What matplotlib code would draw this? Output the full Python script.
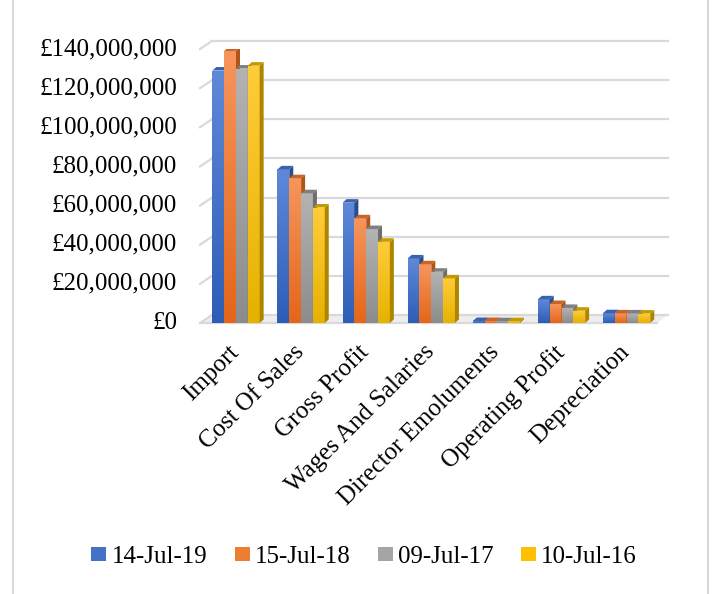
import numpy as np
import matplotlib
matplotlib.use('Agg')
import matplotlib.pyplot as plt
import matplotlib.transforms as mtransforms
from matplotlib.patches import Rectangle, Polygon, Patch
from matplotlib.lines import Line2D

plt.rcParams['font.family'] = ['Liberation Serif', 'DejaVu Serif']

categories = ['Import', 'Cost Of Sales', 'Gross Profit', 'Wages And Salaries',
              'Director Emoluments', 'Operating Profit', 'Depreciation']
series_names = ['14-Jul-19', '15-Jul-18', '09-Jul-17', '10-Jul-16']

# values in £ millions
jul_19 = [129.0, 78.5, 61.5, 33.0, 1.0, 12.1, 5.0]
jul_18 = [139.0, 74.0, 53.5, 30.0, 1.0, 9.7, 4.9]
jul_17 = [130.0, 66.3, 48.0, 26.2, 0.9, 7.7, 4.9]
jul_16 = [131.5, 59.0, 41.5, 22.8, 0.9, 6.3, 4.8]
series = [jul_19, jul_18, jul_17, jul_16]

y_ticks = [0, 20, 40, 60, 80, 100, 120, 140]

# front face gradient (top, bottom), side/top face shade
front_top = ['#5f89d8', '#f6955c', '#b3b3b3', '#ffcc3a']
front_bot = ['#2d5db6', '#e4661a', '#8c8c8c', '#e6b200']
side_col = ['#2b4c8c', '#b05418', '#6e6e6e', '#ad8600']
top_col = ['#3a62ad', '#c8642a', '#7f7f7f', '#c49a00']
legend_col = ['#4472c4', '#ed7d31', '#a5a5a5', '#ffc000']

W, H = 712, 594
fig = plt.figure(figsize=(W / 100, H / 100), dpi=100)
fig.patch.set_facecolor('white')

left_px, right_px, bot_px, top_px = 200, 657, 323, 49
ax = fig.add_axes([left_px / W, (H - bot_px) / H,
                   (right_px - left_px) / W, (bot_px - top_px) / H])
x0_lim = -0.553
x1_lim = x0_lim + (right_px - left_px) / 65.1
ax.set_xlim(x0_lim, x1_lim)
ax.set_ylim(0, 140)
for s in ax.spines.values():
    s.set_visible(False)
ax.set_xticks([])
ax.set_yticks([])

px_x = (x1_lim - x0_lim) / (right_px - left_px)   # data units per pixel
px_y = 140 / (bot_px - top_px)

# back wall gridlines, floor and slanted ticks
grid_c = '#d9d9d9'
wall_dx, wall_dy = 12 * px_x, 8 * px_y
for v in y_ticks:
    ax.plot([x0_lim + wall_dx, x1_lim + 11 * px_x], [v + wall_dy, v + wall_dy],
            color=grid_c, lw=1.6, clip_on=False, zorder=1)
    ax.plot([x0_lim, x0_lim + wall_dx], [v, v + wall_dy],
            color=grid_c, lw=1.6, clip_on=False, zorder=1)
    ax.text(x0_lim - 23 * px_x, v, f'£{v * 1_000_000:,.0f}', ha='right', va='center',
            fontsize=18, color='black')
ax.plot([x0_lim, x1_lim], [0, 0], color=grid_c, lw=1.6, clip_on=False, zorder=1)
ax.add_patch(Polygon([[x0_lim, 0], [x1_lim, 0], [x1_lim + 11 * px_x, wall_dy],
                      [x0_lim + wall_dx, wall_dy]], closed=True,
                     facecolor='#eeeeee', edgecolor='none', zorder=0.5, clip_on=False))

bw = 0.1816
dx, dy = 4 * px_x, 3.5 * px_y
grad = np.linspace(0, 1, 64).reshape(-1, 1)
z = 2
for i, cat in enumerate(categories):
    start = i - 2 * bw
    for k, vals in enumerate(series):
        h = vals[i]
        xl = start + k * bw
        xr = xl + bw
        c0 = np.array(matplotlib.colors.to_rgb(front_top[k]))
        c1 = np.array(matplotlib.colors.to_rgb(front_bot[k]))
        img = (c0[None, None, :] * (1 - grad[:, :, None]) + c1[None, None, :] * grad[:, :, None])
        rect = Rectangle((xl, 0), bw, h, facecolor='none', edgecolor='none', zorder=z)
        ax.add_patch(rect)
        im = ax.imshow(img, extent=[xl, xr, 0, h], aspect='auto', zorder=z,
                       origin='upper', interpolation='bilinear')
        im.set_clip_path(rect)
        ax.add_patch(Polygon([[xr, 0], [xr + dx, dy], [xr + dx, h + dy], [xr, h]],
                             closed=True, facecolor=side_col[k], edgecolor='none', zorder=z))
        ax.add_patch(Polygon([[xl, h], [xr, h], [xr + dx, h + dy], [xl + dx, h + dy]],
                             closed=True, facecolor=top_col[k], edgecolor='none', zorder=z))
        z += 1

    lab_tr = mtransforms.offset_copy(ax.transData, fig=fig, x=-8, y=-18, units='dots')
    ax.text(i, 0, cat, transform=lab_tr, rotation=45, rotation_mode='anchor',
            ha='right', va='top', fontsize=18, color='black')

ax.set_xlim(x0_lim, x1_lim)
ax.set_ylim(0, 140)

handles = [Patch(facecolor=legend_col[k], edgecolor='none') for k in range(4)]
fig.legend(handles, series_names, loc='center', bbox_to_anchor=(364 / W, (H - 557) / H),
           ncol=4, frameon=False, fontsize=18, handlelength=0.6, handleheight=0.52,
           handletextpad=0.2, columnspacing=1.1, borderaxespad=0)

# chart area border
for xb in (13, 708):
    fig.add_artist(Line2D([xb / W, xb / W], [0, 1], color=grid_c, lw=1.5))

fig.savefig('out.png', dpi=100)
